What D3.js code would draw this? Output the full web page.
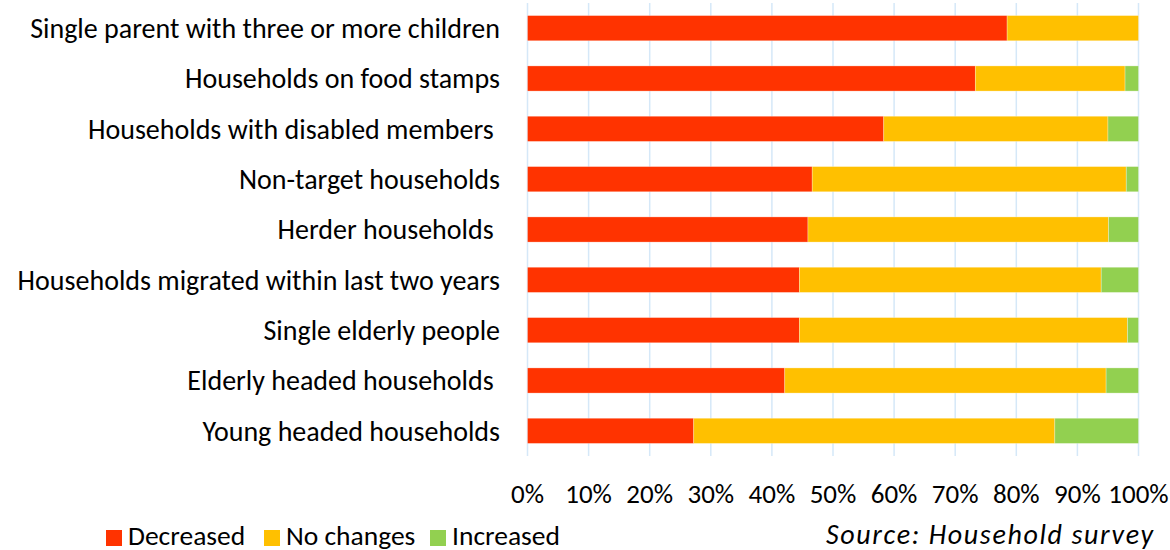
<!DOCTYPE html>
<html>
<head>
<meta charset="utf-8">
<script src="https://cdn.jsdelivr.net/npm/d3@7"></script>
<style>
  html, body { margin: 0; padding: 0; background: #fff; overflow: hidden; }
  svg text { font-family: Carlito, Calibri, Lato, "Open Sans", sans-serif; fill: #000; }
</style>
</head>
<body>
<svg id="chart" width="1170" height="550"></svg>
<script>
// Household groups, top to bottom
const categories = [
  "Single parent with three or more children",
  "Households on food stamps",
  "Households with disabled members ",
  "Non-target households",
  "Herder households ",
  "Households migrated within last two years",
  "Single elderly people",
  "Elderly headed households ",
  "Young headed households"
];

// Share of households (%) per response
const decreased = [78.5, 73.3, 58.3, 46.6, 45.9, 44.5, 44.5, 42.1, 27.2];
const noChanges = [21.5, 24.5, 36.7, 51.4, 49.2, 49.4, 53.7, 52.6, 59.1];
const increased = [0.0, 2.2, 5.0, 2.0, 4.9, 6.1, 1.8, 5.3, 13.7];

const seriesNames = ["Decreased", "No changes", "Increased"];
const seriesColors = ["#FF3300", "#FFC000", "#92D050"];
const tickValues = [0, 10, 20, 30, 40, 50, 60, 70, 80, 90, 100];
const sourceNote = "Source: Household survey";

const svg = d3.select("#chart");
const plot = { left: 527.5, right: 1138.5, top: 3, bottom: 456 };

const rows = categories.map((c, i) => ({
  category: c,
  "Decreased": decreased[i],
  "No changes": noChanges[i],
  "Increased": increased[i]
}));

const x = d3.scaleLinear().domain([0, 100]).range([plot.left, plot.right]);
const y = d3.scaleBand().domain(categories).range([plot.top, plot.bottom])
  .paddingInner(0.5).paddingOuter(0.25);
const color = d3.scaleOrdinal().domain(seriesNames).range(seriesColors);

const stacked = d3.stack().keys(seriesNames)(rows);

// vertical gridlines
svg.append("g").selectAll("line").data(tickValues).join("line")
  .attr("x1", d => x(d)).attr("x2", d => x(d))
  .attr("y1", plot.top).attr("y2", plot.bottom)
  .attr("stroke", "#D5E8F8").attr("stroke-width", 1.5);

// stacked bars
svg.append("g").selectAll("g").data(stacked).join("g")
  .attr("fill", d => color(d.key))
  .selectAll("rect").data(d => d).join("rect")
  .attr("x", d => x(d[0]))
  .attr("width", d => Math.max(0, x(d[1]) - x(d[0])))
  .attr("y", d => y(d.data.category))
  .attr("height", y.bandwidth())
  .attr("stroke", "rgba(255,255,255,0.35)")
  .attr("stroke-width", 0.8);

// category labels
svg.append("g").selectAll("text").data(categories).join("text")
  .attr("x", 500)
  .attr("y", d => y(d) + y.bandwidth() / 2)
  .attr("dy", "0.35em")
  .attr("text-anchor", "end")
  .style("font-size", "28px")
  .style("white-space", "pre")
  .text(d => d);

// percentage axis labels
svg.append("g").selectAll("text").data(tickValues).join("text")
  .attr("x", d => x(d))
  .attr("y", 503)
  .attr("text-anchor", "middle")
  .style("font-size", "27px")
  .text(d => d3.format("d")(d) + "%");

// legend
const legendX = [106, 264, 430];
const legend = svg.append("g").selectAll("g").data(seriesNames).join("g")
  .attr("transform", (d, i) => `translate(${legendX[i]},0)`);
legend.append("rect")
  .attr("x", 0).attr("y", 530).attr("width", 16).attr("height", 16)
  .attr("fill", d => color(d));
legend.append("text")
  .attr("x", 22).attr("y", 544.5)
  .style("font-size", "27.5px")
  .text(d => d);

// source note
svg.append("text")
  .attr("x", 826).attr("y", 543.5)
  .attr("textLength", 327)
  .attr("lengthAdjust", "spacing")
  .style("font-size", "28px")
  .style("font-style", "italic")
  .text(sourceNote);
</script>
</body>
</html>
